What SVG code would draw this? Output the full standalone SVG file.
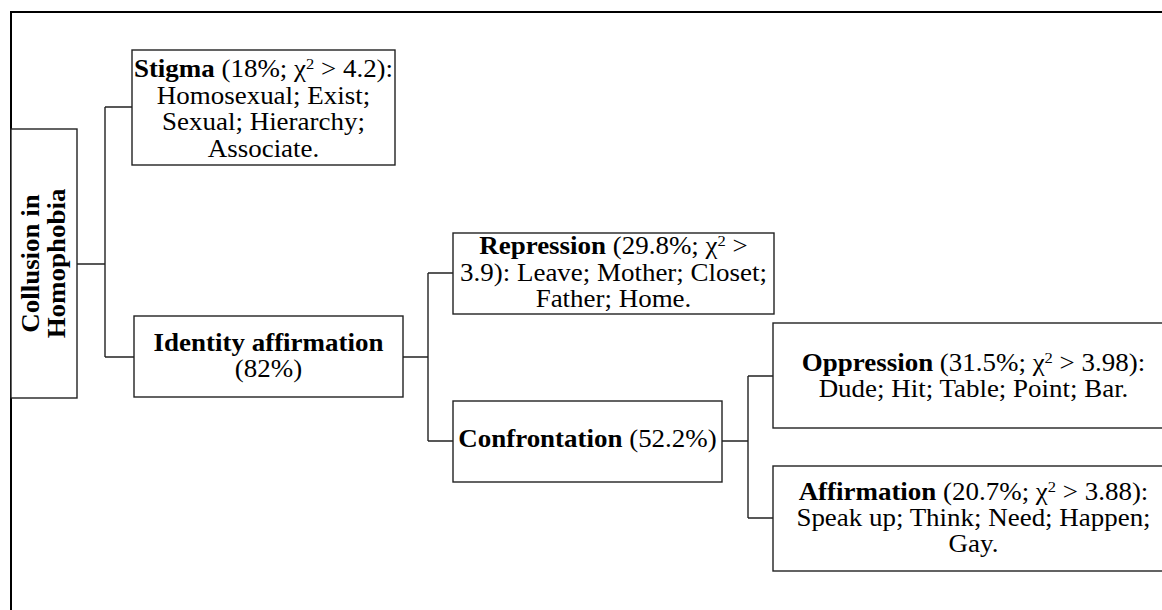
<svg xmlns="http://www.w3.org/2000/svg" width="1162" height="610" viewBox="0 0 1162 610">
<style>
.box{fill:#fff;stroke:#222;stroke-width:1.4}
.t{font-family:"Liberation Serif","Times New Roman",serif;font-size:24.5px;fill:#000}
.b{font-weight:bold}
.sup{font-size:15px}
.c{fill:none;stroke:#222;stroke-width:1.4}
.frame{fill:none;stroke:#000;stroke-width:2}
</style>
<rect width="1162" height="610" fill="#fff"/>
<path class="frame" d="M11,610 V12 H1162"/>
<g id="connectors">
<path class="c" d="M77,264 H105 M105,107 V357 M105,107 H132 M105,357 H134"/>
<path class="c" d="M403,357 H428 M428,273 V441 M428,273 H453 M428,441 H453"/>
<path class="c" d="M722,441 H748 M748,376 V518 M748,376 H773 M748,518 H773"/>
</g>
<g id="root">
<rect class="box" x="11" y="129" width="66" height="269"/>
<text class="t b" text-anchor="middle" transform="translate(39,263.5) rotate(-90) scale(1.1,1)"><tspan x="0" y="0">Collusion in</tspan><tspan x="0" y="26">Homophobia</tspan></text>
</g>
<g id="stigma">
<rect class="box" x="132" y="50" width="263" height="115"/>
<text class="t" text-anchor="middle" transform="translate(263.5,77) scale(1.1,1)"><tspan x="0" y="0"><tspan class="b">Stigma</tspan> (18%; χ<tspan class="sup" baseline-shift="8">2</tspan> &gt; 4.2):</tspan><tspan x="0" y="26.7">Homosexual; Exist;</tspan><tspan x="0" y="53.4">Sexual; Hierarchy;</tspan><tspan x="0" y="80">Associate.</tspan></text>
</g>
<g id="identity">
<rect class="box" x="134" y="316" width="269" height="81"/>
<text class="t" text-anchor="middle" transform="translate(268.5,351) scale(1.1,1)"><tspan x="0" y="0" class="b">Identity affirmation</tspan><tspan x="0" y="26">(82%)</tspan></text>
</g>
<g id="repression">
<rect class="box" x="453" y="233" width="321" height="81"/>
<text class="t" text-anchor="middle" transform="translate(613.5,254) scale(1.1,1)"><tspan x="0" y="0"><tspan class="b">Repression</tspan> (29.8%; χ<tspan class="sup" baseline-shift="8">2</tspan> &gt;</tspan><tspan x="0" y="27">3.9): Leave; Mother; Closet;</tspan><tspan x="0" y="53">Father; Home.</tspan></text>
</g>
<g id="confrontation">
<rect class="box" x="453" y="401" width="269" height="81"/>
<text class="t" text-anchor="middle" transform="translate(587.5,447) scale(1.1,1)"><tspan class="b">Confrontation</tspan> (52.2%)</text>
</g>
<g id="oppression">
<rect class="box" x="773" y="323" width="401" height="105"/>
<text class="t" text-anchor="middle" transform="translate(973.5,371) scale(1.1,1)"><tspan x="0" y="0"><tspan class="b">Oppression</tspan> (31.5%; χ<tspan class="sup" baseline-shift="8">2</tspan> &gt; 3.98):</tspan><tspan x="0" y="26">Dude; Hit; Table; Point; Bar.</tspan></text>
</g>
<g id="affirmation">
<rect class="box" x="773" y="466" width="401" height="105"/>
<text class="t" text-anchor="middle" transform="translate(973.5,500) scale(1.1,1)"><tspan x="0" y="0"><tspan class="b">Affirmation</tspan> (20.7%; χ<tspan class="sup" baseline-shift="8">2</tspan> &gt; 3.88):</tspan><tspan x="0" y="26">Speak up; Think; Need; Happen;</tspan><tspan x="0" y="52">Gay.</tspan></text>
</g>
</svg>
